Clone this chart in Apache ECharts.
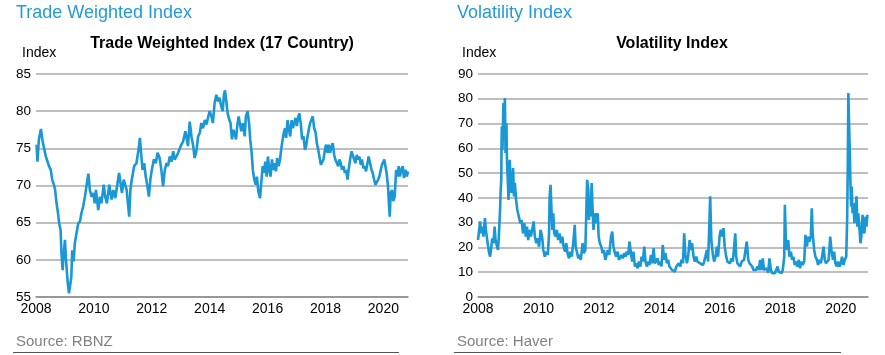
<!DOCTYPE html>
<html><head><meta charset="utf-8">
<script src="https://cdn.jsdelivr.net/npm/echarts@6/dist/echarts.min.js"></script>
<style>html,body{margin:0;padding:0;background:#fff}#c{width:885px;height:355px}</style>
</head><body><div id="c"></div>
<script>
// ---- Trade Weighted Index (17 Country) ----
const twiYears = [2008.02,2008.05,2008.10,2008.17,2008.23,2008.29,2008.34,2008.39,2008.45,2008.51,2008.56,2008.62,2008.66,2008.71,2008.76,2008.80,2008.85,2008.88,2008.92,2008.95,
2009.00,2009.03,2009.07,2009.10,2009.14,2009.18,2009.22,2009.25,2009.30,2009.34,2009.40,2009.46,2009.52,2009.57,2009.63,2009.69,2009.75,2009.81,2009.86,2009.92,2009.98,
2010.03,2010.07,2010.15,2010.21,2010.26,2010.34,2010.39,2010.45,2010.53,2010.61,2010.67,2010.74,2010.80,2010.87,2010.92,2010.97,
2011.03,2011.13,2011.22,2011.26,2011.31,2011.39,2011.47,2011.54,2011.59,2011.63,2011.68,2011.74,2011.79,2011.84,2011.90,2011.95,
2012.00,2012.07,2012.14,2012.20,2012.27,2012.33,2012.39,2012.45,2012.51,2012.56,2012.62,2012.68,2012.74,2012.79,2012.85,2012.91,2012.97,
2013.02,2013.08,2013.16,2013.21,2013.25,2013.31,2013.37,2013.43,2013.48,2013.54,2013.60,2013.66,2013.71,2013.77,2013.83,2013.89,2013.94,
2014.00,2014.06,2014.11,2014.17,2014.23,2014.29,2014.34,2014.40,2014.45,2014.49,2014.53,2014.58,2014.62,2014.68,2014.72,2014.77,2014.82,2014.86,2014.91,2014.95,
2015.00,2015.05,2015.09,2015.15,2015.21,2015.25,2015.31,2015.36,2015.40,2015.45,2015.49,2015.54,2015.59,2015.63,2015.68,2015.74,2015.78,2015.83,2015.87,2015.92,2015.97,
2016.01,2016.06,2016.10,2016.15,2016.19,2016.24,2016.29,2016.33,2016.38,2016.43,2016.47,2016.52,2016.56,2016.60,2016.64,2016.69,2016.74,2016.78,2016.83,2016.87,2016.92,2016.97,
2017.01,2017.06,2017.10,2017.15,2017.19,2017.24,2017.29,2017.33,2017.38,2017.43,2017.47,2017.52,2017.56,2017.61,2017.66,2017.70,2017.75,2017.79,2017.84,2017.88,2017.93,2017.98,
2018.02,2018.07,2018.11,2018.16,2018.21,2018.25,2018.30,2018.34,2018.39,2018.44,2018.48,2018.53,2018.57,2018.62,2018.67,2018.71,2018.76,2018.80,2018.85,2018.90,2018.94,2018.99,
2019.03,2019.08,2019.13,2019.17,2019.22,2019.26,2019.31,2019.36,2019.40,2019.45,2019.49,2019.54,2019.59,2019.63,2019.68,2019.72,2019.77,2019.82,2019.86,2019.91,2019.95,
2020.00,2020.03,2020.07,2020.11,2020.16,2020.19,2020.22,2020.25,2020.30,2020.34,2020.39,2020.44,2020.48,2020.53,2020.57,2020.62,2020.67,2020.71,2020.76,2020.81,2020.85];
const twiValues = [75.5,73.2,76.2,77.6,75.9,74.8,73.9,73.7,72.6,72.1,70.8,70.1,69.4,67.6,66.3,64.9,64.0,60.9,58.6,60.4,
62.7,60.4,58.2,56.8,55.5,55.7,57.7,61.3,59.8,62.2,63.6,64.9,65.2,66.3,67.2,68.5,70.1,71.6,69.4,68.5,69.0,
67.6,69.4,66.7,68.5,67.6,70.1,68.5,67.6,70.1,68.1,69.4,68.3,69.9,71.7,70.3,69.0,
70.8,69.4,65.8,69.4,70.8,72.6,73.0,74.8,76.4,74.4,72.1,73.0,71.2,70.1,68.5,70.8,
72.1,73.5,73.0,74.4,73.7,72.1,69.9,72.1,73.0,72.6,73.9,73.2,74.6,73.5,73.9,74.4,75.0,
75.5,75.9,77.3,76.2,75.3,78.6,76.6,75.3,73.7,74.6,76.6,77.1,78.4,77.7,78.8,78.2,79.1,
80.0,79.3,78.4,81.1,82.2,81.3,81.8,80.6,80.0,82.2,82.8,81.1,79.7,78.8,78.4,76.2,77.5,77.7,76.2,78.0,
79.3,78.2,77.3,78.4,76.6,79.3,80.0,78.4,76.2,74.4,72.1,70.8,70.1,71.2,69.2,68.3,70.3,72.6,71.7,73.2,71.2,
73.9,72.1,71.2,73.5,72.1,73.0,71.9,73.7,72.6,73.5,74.9,76.2,77.1,77.7,76.4,78.8,77.5,76.6,78.8,77.7,78.4,79.1,
78.0,79.3,79.7,78.2,76.2,76.6,74.8,75.3,76.6,77.7,78.4,78.6,79.3,77.7,77.1,75.7,74.8,73.9,72.8,72.6,73.5,74.8,
75.5,74.4,75.5,74.4,75.3,75.7,74.1,73.5,73.7,72.6,73.5,73.0,72.1,72.6,71.7,72.1,70.8,72.1,73.5,74.6,74.8,73.5,
73.0,74.1,73.5,73.9,72.8,73.5,72.3,72.6,71.9,73.0,73.9,73.0,72.1,71.7,70.8,70.1,70.3,70.8,71.2,72.1,72.8,
73.2,73.5,72.6,71.7,69.9,67.6,65.8,69.0,69.4,67.9,68.5,72.1,71.2,72.6,71.2,72.1,72.6,71.0,72.1,71.2,71.9];
const twiYTicks = [55,60,65,70,75,80,85];

// ---- Volatility Index ----
const vixYears = [2008.00,2008.07,2008.10,2008.14,2008.18,2008.23,2008.26,2008.32,2008.36,2008.40,2008.43,2008.47,2008.51,2008.55,2008.58,2008.63,2008.66,2008.69,2008.73,2008.75,2008.77,2008.78,2008.79,2008.81,2008.84,2008.86,2008.89,2008.91,2008.94,2008.96,2008.98,
2009.01,2009.05,2009.08,2009.11,2009.16,2009.19,2009.22,2009.26,2009.30,2009.35,2009.40,2009.44,2009.49,2009.53,2009.58,2009.62,2009.66,2009.71,2009.75,2009.81,2009.84,2009.88,2009.93,2009.97,
2010.02,2010.07,2010.12,2010.16,2010.21,2010.27,2010.31,2010.35,2010.37,2010.40,2010.43,2010.46,2010.49,2010.52,2010.57,2010.61,2010.65,2010.70,2010.74,2010.79,2010.83,2010.88,2010.92,2010.96,
2011.01,2011.05,2011.10,2011.15,2011.20,2011.23,2011.27,2011.32,2011.36,2011.40,2011.46,2011.50,2011.55,2011.59,2011.61,2011.65,2011.67,2011.69,2011.72,2011.76,2011.79,2011.82,2011.87,2011.91,2011.96,2011.99,
2012.03,2012.08,2012.12,2012.16,2012.21,2012.24,2012.29,2012.34,2012.40,2012.44,2012.48,2012.53,2012.57,2012.62,2012.66,2012.70,2012.75,2012.79,2012.84,2012.88,2012.92,2012.97,
2013.01,2013.06,2013.10,2013.14,2013.19,2013.23,2013.28,2013.32,2013.37,2013.41,2013.45,2013.50,2013.54,2013.59,2013.63,2013.67,2013.72,2013.76,2013.81,2013.85,2013.89,2013.94,2013.98,
2014.03,2014.07,2014.11,2014.16,2014.20,2014.25,2014.29,2014.33,2014.38,2014.42,2014.47,2014.51,2014.56,2014.60,2014.64,2014.69,2014.73,2014.78,2014.82,2014.86,2014.91,2014.95,
2015.00,2015.04,2015.08,2015.13,2015.17,2015.22,2015.26,2015.30,2015.35,2015.39,2015.44,2015.48,2015.52,2015.57,2015.61,2015.66,2015.68,2015.70,2015.72,2015.77,2015.81,2015.86,2015.90,2015.94,2015.99,
2016.03,2016.08,2016.12,2016.16,2016.21,2016.25,2016.30,2016.34,2016.38,2016.43,2016.47,2016.51,2016.54,2016.58,2016.63,2016.67,2016.72,2016.76,2016.80,2016.85,2016.89,2016.94,2016.98,
2017.02,2017.07,2017.11,2017.16,2017.20,2017.24,2017.29,2017.33,2017.38,2017.42,2017.46,2017.51,2017.55,2017.60,2017.64,2017.69,2017.73,2017.77,2017.82,2017.86,2017.91,2017.95,2017.99,
2018.04,2018.08,2018.13,2018.15,2018.18,2018.21,2018.26,2018.30,2018.35,2018.39,2018.43,2018.48,2018.52,2018.57,2018.61,2018.65,2018.70,2018.74,2018.79,2018.83,2018.88,2018.92,2018.96,
2019.01,2019.04,2019.07,2019.12,2019.16,2019.21,2019.25,2019.29,2019.34,2019.38,2019.43,2019.47,2019.51,2019.56,2019.60,2019.65,2019.69,2019.74,2019.78,2019.82,2019.87,2019.91,2019.96,
2020.00,2020.04,2020.09,2020.13,2020.18,2020.21,2020.23,2020.25,2020.27,2020.30,2020.32,2020.34,2020.36,2020.39,2020.42,2020.45,2020.48,2020.52,2020.55,2020.58,2020.62,2020.65,2020.68,2020.72,2020.75,2020.78,2020.82,2020.85,2020.88];
const vixValues = [23.0,30.5,25.7,28.4,24.4,31.8,27.1,21.7,18.3,16.3,19.0,23.7,21.7,28.4,23.0,20.3,19.0,24.4,35.2,43.3,47.3,63.5,68.9,59.4,78.3,67.5,80.3,58.1,70.2,54.0,48.7,
39.2,55.4,44.6,41.9,52.0,40.6,46.0,39.2,35.2,32.5,29.8,31.1,25.7,29.8,24.4,28.4,23.0,27.1,24.4,28.4,30.5,24.4,21.7,23.7,
20.3,27.1,24.4,19.0,16.3,18.3,17.0,25.7,40.6,45.3,35.2,27.1,33.8,25.7,24.4,27.1,23.0,25.7,21.7,24.4,20.3,18.3,21.7,17.7,
15.6,18.3,16.3,21.7,29.1,20.3,18.3,15.6,17.0,15.0,21.7,17.7,19.0,37.9,47.3,43.3,31.1,40.6,32.5,46.0,35.2,27.1,33.8,29.8,33.8,24.4,
21.7,20.3,17.7,19.0,15.0,16.3,19.0,17.0,24.4,26.4,20.3,17.7,16.3,18.3,15.0,14.3,17.0,15.6,17.7,16.3,18.3,17.0,
22.4,17.7,14.3,18.3,12.3,13.6,11.6,14.3,12.3,16.3,14.3,20.3,14.3,12.3,14.3,12.9,17.0,13.6,19.7,13.6,14.3,15.6,12.9,
14.3,12.3,21.0,15.0,17.7,13.6,15.0,12.3,12.9,10.9,11.2,10.2,12.3,11.6,13.6,12.3,15.0,13.6,25.7,17.0,13.6,16.3,
23.0,19.0,21.7,16.3,14.3,16.3,14.3,15.0,13.6,14.3,12.9,14.3,16.3,19.0,14.3,32.5,40.6,31.1,22.4,17.0,14.3,16.3,20.3,16.3,24.4,
27.1,24.4,27.8,20.3,16.3,14.3,15.0,13.6,15.6,14.3,13.6,25.7,16.3,13.6,14.3,12.3,14.3,13.6,15.0,15.6,22.4,15.0,13.6,
12.9,12.3,10.9,11.6,10.9,12.3,10.9,15.0,10.9,15.6,10.9,10.2,11.6,9.8,15.6,10.9,9.6,10.2,9.6,10.9,12.3,10.2,9.6,
9.6,10.9,16.3,37.2,24.4,19.0,23.0,16.3,18.3,15.0,16.3,12.9,14.3,12.3,15.0,11.6,14.3,12.9,14.3,25.1,20.3,24.4,22.4,
24.4,35.8,25.7,19.0,16.3,15.0,12.9,15.0,13.6,16.3,20.3,15.0,13.6,12.9,15.0,24.4,19.0,15.0,18.3,13.6,12.3,14.3,12.3,
13.6,16.3,12.9,15.0,16.3,31.1,51.3,82.3,71.6,58.1,45.3,36.5,44.6,33.8,37.9,29.8,33.8,40.6,28.4,33.8,27.1,21.7,24.4,33.2,27.1,25.7,32.5,28.4,33.2];
const vixYTicks = [0,10,20,30,40,50,60,70,80,90];

const xTickYears = [2008,2010,2012,2014,2016,2018,2020];

const FONT = '"Liberation Sans", Arial, Helvetica, sans-serif';
const BLUE = '#1a97d5';
const chart = echarts.init(document.getElementById('c'), null, {renderer: 'canvas'});

function xAxis(gridIndex, max) {
  return {
    type: 'value', gridIndex, min: xTickYears[0], max, interval: xTickYears[1] - xTickYears[0],
    axisLine: {show: true, lineStyle: {color: '#8c8c8c', width: 1.5}},
    axisTick: {show: false},
    splitLine: {show: false},
    axisLabel: {
      color: '#000', fontFamily: FONT, fontSize: 14, margin: 5,
      showMaxLabel: false,
      formatter: v => xTickYears.indexOf(v) >= 0 ? String(v) : ''
    }
  };
}
function yAxis(gridIndex, ticks) {
  return {
    type: 'value', gridIndex, min: ticks[0], max: ticks[ticks.length - 1], interval: ticks[1] - ticks[0],
    axisLine: {show: false}, axisTick: {show: false},
    splitLine: {show: true, lineStyle: {color: '#a8a8a8', width: 1.5}},
    axisLabel: {color: '#000', fontFamily: FONT, fontSize: 13.5, margin: 5}
  };
}
function txt(x, y, text, font, fill, align) {
  return {type: 'text', x, y, silent: true,
    style: {text, font, fill, textAlign: align || 'left', textVerticalAlign: 'middle'}};
}

chart.setOption({
  animation: false,
  backgroundColor: '#fff',
  grid: [
    {left: 36, top: 74, width: 372, height: 223},
    {left: 478, top: 74, width: 390, height: 223}
  ],
  xAxis: [xAxis(0, 2020.85), xAxis(1, 2020.9)],
  yAxis: [yAxis(0, twiYTicks), yAxis(1, vixYTicks)],
  series: [
    {type: 'line', xAxisIndex: 0, yAxisIndex: 0, showSymbol: false, symbol: 'none',
     lineStyle: {color: BLUE, width: 2.6}, data: twiYears.map((y, i) => [y, twiValues[i]])},
    {type: 'line', xAxisIndex: 1, yAxisIndex: 1, showSymbol: false, symbol: 'none',
     lineStyle: {color: BLUE, width: 2.6}, data: vixYears.map((y, i) => [y, vixValues[i]])}
  ],
  graphic: [
    txt(16, 13, 'Trade Weighted Index', '18px ' + FONT, '#239bd8'),
    txt(457, 13, 'Volatility Index', '18px ' + FONT, '#239bd8'),
    txt(222, 44, 'Trade Weighted Index (17 Country)', 'bold 16px ' + FONT, '#000', 'center'),
    txt(672, 44, 'Volatility Index', 'bold 16px ' + FONT, '#000', 'center'),
    txt(22, 53, 'Index', '14px ' + FONT, '#000'),
    txt(462, 53, 'Index', '14px ' + FONT, '#000'),
    txt(16, 342, 'Source: RBNZ', '15px ' + FONT, '#808080'),
    txt(457, 342, 'Source: Haver', '15px ' + FONT, '#808080'),
    {type: 'line', silent: true, shape: {x1: 13, y1: 352.5, x2: 399, y2: 352.5}, style: {stroke: '#555', lineWidth: 1}},
    {type: 'line', silent: true, shape: {x1: 454, y1: 352.5, x2: 841, y2: 352.5}, style: {stroke: '#555', lineWidth: 1}}
  ]
});
</script>
</body></html>
